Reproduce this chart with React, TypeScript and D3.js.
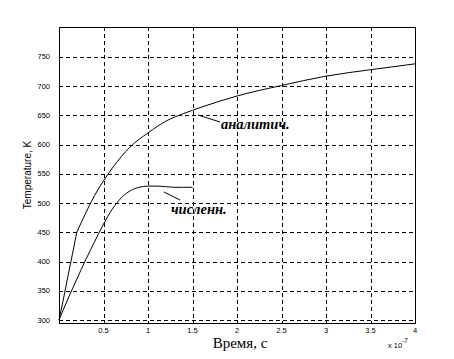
import React from "react";
import * as d3 from "d3";

const W = 454;
const H = 359;

const analyticTime = [0, 0.05, 0.1, 0.15, 0.2, 0.3, 0.4, 0.5, 0.6, 0.8, 1.0, 1.2, 1.4, 1.6, 1.8, 2.0, 2.5, 3.0, 3.5, 4.0];
const analyticTemp = [300, 336, 375, 412, 450, 483, 513, 538, 560, 596, 620, 640, 653, 664, 674, 683, 701, 717, 728, 738];

const numericTime = [0, 0.1, 0.2, 0.3, 0.4, 0.5, 0.6, 0.7, 0.8, 0.9, 1.0, 1.1, 1.2, 1.3, 1.4, 1.5];
const numericTemp = [300, 336, 370, 403, 434, 464, 490, 509, 521, 527, 529, 529, 528, 527, 527, 527];

const xTicks = [0.5, 1, 1.5, 2, 2.5, 3, 3.5, 4];
const xTickLabels = ["0.5", "1", "1.5", "2", "2.5", "3", "3.5", "4"];
const yTicks = [300, 350, 400, 450, 500, 550, 600, 650, 700, 750];

const left = 59, right = 415, top = 27, bottom = 323;

export default function App() {
  const x = d3.scaleLinear().domain([0, 4]).range([left, right]);
  const y = d3.scaleLinear().domain([295, 801]).range([bottom, top]);
  const line = d3.line<[number, number]>().x(d => x(d[0])).y(d => y(d[1]));
  const aPts = analyticTime.map((t, i) => [t, analyticTemp[i]] as [number, number]);
  const nPts = numericTime.map((t, i) => [t, numericTemp[i]] as [number, number]);
  const curve = d3.line<[number, number]>().x(d => x(d[0])).y(d => y(d[1])).curve(d3.curveMonotoneX);

  // analytic: straight segment up to 0.2, then smooth
  const aFirst = aPts.filter(p => p[0] <= 0.2);
  const aRest = aPts.filter(p => p[0] >= 0.2);

  const tickFont = "Arial, 'Liberation Sans', sans-serif";
  return (
    <svg width={W} height={H} style={{ position: "absolute", left: 0, top: 0, background: "#fff" }}>
      <rect x={0} y={0} width={W} height={H} fill="#fff" />
      {/* grid */}
      <g stroke="#000" strokeWidth={1} strokeDasharray="4,3" shapeRendering="crispEdges">
        {xTicks.slice(0, -1).map(t => (
          <line key={"gx" + t} x1={Math.round(x(t)) + 0.5} x2={Math.round(x(t)) + 0.5} y1={top} y2={bottom} />
        ))}
        {yTicks.map(t => (
          <line key={"gy" + t} x1={left} x2={right} y1={Math.round(y(t)) + 0.5} y2={Math.round(y(t)) + 0.5} />
        ))}
      </g>
      {/* frame */}
      <rect x={left + 0.5} y={top + 0.5} width={right - left} height={bottom - top} fill="none" stroke="#000" strokeWidth={1} shapeRendering="crispEdges" />
      {/* y tick labels */}
      <g fontFamily={tickFont} fontSize={7.5} fill="#000">
        {yTicks.map(t => (
          <text key={"yl" + t} x={50} y={y(t) + 2.5} textAnchor="end">{t}</text>
        ))}
        {xTicks.map((t, i) => (
          <text key={"xl" + t} x={x(t)} y={333} textAnchor="middle">{xTickLabels[i]}</text>
        ))}
      </g>
      {/* curves */}
      <path d={line(aFirst) || ""} fill="none" stroke="#000" strokeWidth={1} />
      <path d={curve(aRest) || ""} fill="none" stroke="#000" strokeWidth={1} />
      <path d={curve(nPts) || ""} fill="none" stroke="#000" strokeWidth={1} />
      {/* annotations */}
      <line x1={198} y1={115} x2={220} y2={122} stroke="#000" strokeWidth={1} />
      <text x={221} y={128.5} fontFamily="'Liberation Serif', 'Times New Roman', serif" fontStyle="italic" fontWeight="bold" fontSize={14.5}>аналитич.</text>
      <line x1={164} y1={192} x2={180} y2={200} stroke="#000" strokeWidth={1} />
      <text x={171} y={214} fontFamily="'Liberation Serif', 'Times New Roman', serif" fontStyle="italic" fontWeight="bold" fontSize={14.5}>численн.</text>
      {/* axis labels */}
      <text x={240} y={348} textAnchor="middle" fontFamily="'Liberation Serif', 'Times New Roman', serif" fontSize={15}>Время, с</text>
      <text transform="translate(31,175) rotate(-90)" textAnchor="middle" fontFamily={tickFont} fontSize={10}>Temperature, K</text>
      <text x={388} y={348} fontFamily={tickFont} fontSize={7.5}>x 10<tspan dy={-5} fontSize={6.5}>-7</tspan></text>
    </svg>
  );
}
